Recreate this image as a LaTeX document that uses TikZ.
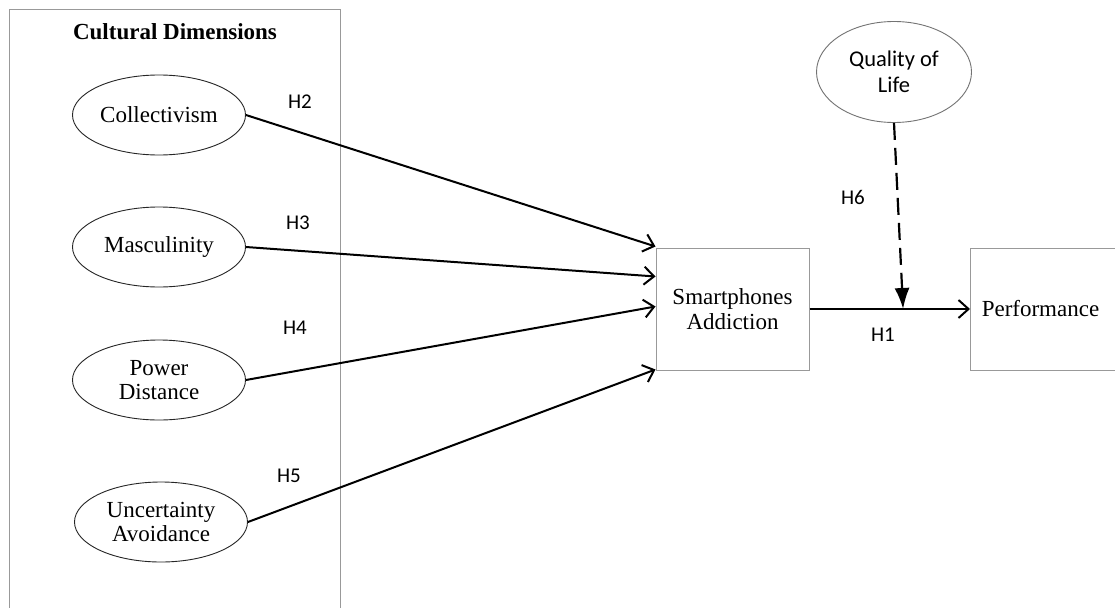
\documentclass[tikz,border=0pt]{standalone}
\usepackage{fontspec}
\setmainfont{Liberation Serif}
\newfontfamily\calfont{Carlito}
\usetikzlibrary{arrows.meta,calc,shapes.geometric}
\begin{document}
\begin{tikzpicture}[x=1pt,y=-1pt,
  construct/.style={ellipse,draw=black!85,line width=0.9pt,minimum width=173pt,minimum height=80pt,inner sep=0pt,align=center,font=\fontsize{23}{26}\selectfont},
  boxnode/.style={rectangle,draw=black!40,line width=1pt,inner sep=0pt,align=center,font=\fontsize{23}{26}\selectfont},
  hlabel/.style={font=\calfont\fontsize{21}{22}\selectfont,inner sep=0pt},
  path/.style={line width=2pt,-{Straight Barb[length=10pt,width=18pt,line width=2pt]}},
  modpath/.style={line width=2.2pt,dash pattern=on 17pt off 8pt,-{Latex[length=21pt,width=15pt]}}
]
\clip (0,0) rectangle (1115,607);
\fill[white] (0,0) rectangle (1115,607);
% container
\node[boxnode,anchor=north west,minimum width=331pt,minimum height=620pt] (dims) at (9,9) {};
\node[font=\bfseries\fontsize{23}{26}\selectfont,inner sep=0pt] (title) at (175,32) {Cultural Dimensions};
% constructs
\node[construct] (coll) at (159,115) {Collectivism};
\node[construct] (masc) at (159,247) {Masculinity};
\node[construct] (pow) at (159,380) {Power\\[-2pt]Distance};
\node[construct] (unc) at (161,522) {Uncertainty\\[-2pt]Avoidance};
\node[boxnode,minimum width=153pt,minimum height=122pt] (sa) at (732.5,309) {Smartphones\\[-1pt]Addiction};
\node[boxnode,anchor=west,minimum width=160pt,minimum height=122pt,text width=160pt] (perf) at (970,309) {\hspace*{-20pt}Performance};
\node[ellipse,draw=black!55,line width=0.9pt,minimum width=155pt,minimum height=101pt,inner sep=0pt,align=center,font=\calfont\fontsize{22.5}{26}\selectfont] (qol) at (894,72) {Quality of\\Life};
% endpoints on the Smartphones box
\coordinate (e1) at ($(sa.north west)+(0,-1)$);
\coordinate (e2) at ($(sa.north west)+(0,29)$);
\coordinate (e3) at ($(sa.north west)+(0,59)$);
\coordinate (e4) at ($(sa.south west)+(0,-1)$);
\draw[path] (coll.east) -- (e1);
\draw[path] (masc.east) -- (e2);
\draw[path] (pow.east) -- (e3);
\draw[path] (unc.east) -- (e4);
\draw[path] (sa.east) -- (perf.west);
\coordinate (mod) at ($(sa.east)!0.583!(perf.west)$);
\draw[modpath] (qol.south) -- (mod);
% labels
\node[hlabel] (h2) at (300,102) {H2};
\node[hlabel] (h3) at (298,223) {H3};
\node[hlabel] (h4) at (295,328) {H4};
\node[hlabel] (h5) at (289,476) {H5};
\node[hlabel] (h6) at (853,197) {H6};
\node[hlabel] (h1) at (883,335) {H1};
\end{tikzpicture}
\end{document}
